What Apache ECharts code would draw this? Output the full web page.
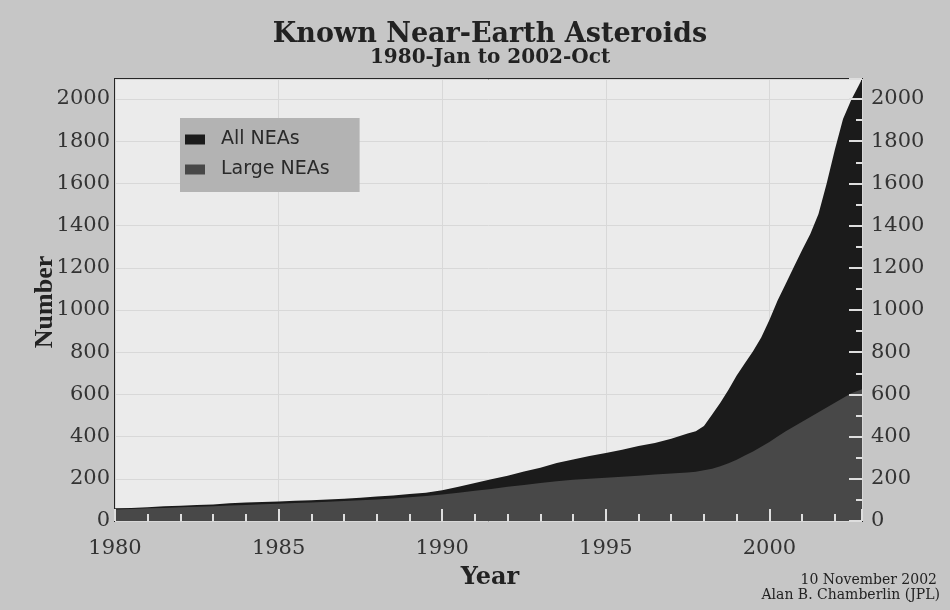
<!DOCTYPE html>
<html>
<head>
<meta charset="utf-8">
<script src="https://cdn.jsdelivr.net/npm/echarts@6/dist/echarts.min.js"></script>
<style>html,body{margin:0;padding:0;background:#c6c6c6;}#c{width:950px;height:610px;}</style>
</head>
<body>
<div id="c"></div>
<script>
const years = [1980.0,1980.5,1981.0,1981.5,1982.0,1982.5,1983.0,1983.5,1984.0,1984.5,1985.0,1985.5,1986.0,1986.5,1987.0,1987.5,1988.0,1988.5,1989.0,1989.5,1990.0,1990.5,1991.0,1991.5,1992.0,1992.5,1993.0,1993.5,1994.0,1994.5,1995.0,1995.5,1996.0,1996.5,1997.0,1997.5,1997.75,1998.0,1998.25,1998.5,1998.75,1999.0,1999.25,1999.5,1999.75,2000.0,2000.25,2000.5,2000.75,2001.0,2001.25,2001.5,2001.75,2002.0,2002.25,2002.5,2002.75,2002.83];
const allNEAs = [60,62,65,70,72,76,78,84,88,90,93,96,98,102,106,110,116,121,128,134,146,162,180,198,215,235,252,275,292,308,322,338,356,370,390,415,425,450,505,560,622,690,748,805,870,953,1045,1125,1205,1285,1360,1455,1600,1760,1905,1995,2070,2095];
const largeNEAs = [55,57,60,62,65,67,70,73,76,79,82,85,88,91,95,98,102,107,112,118,126,134,143,152,162,171,180,188,195,200,205,210,215,220,225,230,233,240,248,260,274,290,310,330,352,375,400,425,448,470,493,515,538,560,583,605,620,625];
const yTicks = [0,200,400,600,800,1000,1200,1400,1600,1800,2000];
const xTicks = [1980,1985,1990,1995,2000];
const seriesNames = ['All NEAs','Large NEAs'];

const chart = echarts.init(document.getElementById('c'));
const serif = '"DejaVu Serif",serif';
const tserif = '"Liberation Serif","Times New Roman",serif';
const sans = '"DejaVu Sans",sans-serif';
const yLabel = v => yTicks.indexOf(Math.round(v)) >= 0 ? String(Math.round(v)) : '';
const xLabel = v => xTicks.indexOf(Math.round(v)) >= 0 ? String(Math.round(v)) : '';
const tickColor = '#dedede';
chart.setOption({
  backgroundColor: '#c6c6c6',
  animation: false,
  grid: {left: 115, right: 88, top: 79, bottom: 89, show: true, backgroundColor: '#ebebeb', borderColor: '#262626', borderWidth: 2},
  legend: {
    orient: 'vertical', left: 180, top: 118,
    backgroundColor: '#b3b3b3', padding: [12, 30, 13, 5], itemGap: 11,
    itemWidth: 20, itemHeight: 10, icon: 'rect',
    textStyle: {fontFamily: sans, fontSize: 19, color: '#2a2a2a', padding: [0, 0, 0, 11]},
    data: seriesNames
  },
  graphic: [
    {type: 'text', x: 490, y: 35, style: {text: 'Known Near-Earth Asteroids', font: 'bold 27px ' + serif, fill: '#222', textAlign: 'center', textVerticalAlign: 'middle'}},
    {type: 'text', x: 490, y: 58, style: {text: '1980-Jan to 2002-Oct', font: 'bold 20px ' + serif, fill: '#222', textAlign: 'center', textVerticalAlign: 'middle'}},
    {type: 'text', x: 45, y: 302, rotation: Math.PI / 2, style: {text: 'Number', font: 'bold 26px ' + tserif, fill: '#222', textAlign: 'center', textVerticalAlign: 'middle'}},
    {type: 'text', x: 490, y: 578, style: {text: 'Year', font: 'bold 24px ' + serif, fill: '#222', textAlign: 'center', textVerticalAlign: 'middle'}},
    {type: 'text', x: 937, y: 580, style: {text: '10 November 2002', font: '14px ' + serif, fill: '#222', textAlign: 'right', textVerticalAlign: 'middle'}},
    {type: 'text', x: 940, y: 595, style: {text: 'Alan B. Chamberlin (JPL)', font: '14px ' + serif, fill: '#222', textAlign: 'right', textVerticalAlign: 'middle'}}
  ],
  xAxis: [
    {
      type: 'value', min: 1980, max: 2002.83, interval: 5, z: 0,
      axisLine: {show: false}, axisTick: {show: false},
      axisLabel: {fontFamily: serif, fontSize: 21, color: '#333', margin: 17, formatter: xLabel},
      splitLine: {show: true, lineStyle: {color: '#d8d8d8', width: 1}}
    },
    {
      type: 'value', min: 1980, max: 2002.83, interval: 5, z: 10, position: 'bottom',
      axisLine: {show: false},
      axisTick: {show: true, inside: true, length: 12, lineStyle: {color: tickColor, width: 2}},
      minorTick: {show: true, splitNumber: 5, length: 7, lineStyle: {color: tickColor, width: 2}},
      axisLabel: {show: false}, splitLine: {show: false}
    }
  ],
  yAxis: [
    {
      type: 'value', min: 0, max: 2095, interval: 200, position: 'left', z: 0,
      axisLine: {show: false}, axisTick: {show: false},
      axisLabel: {fontFamily: serif, fontSize: 21, color: '#333', margin: 5, showMaxLabel: false, formatter: yLabel},
      splitLine: {show: true, lineStyle: {color: '#d8d8d8', width: 1}}
    },
    {
      type: 'value', min: 0, max: 2095, interval: 200, position: 'right', z: 10,
      axisLine: {show: false},
      axisTick: {show: true, inside: true, length: 13, lineStyle: {color: tickColor, width: 2}},
      minorTick: {show: true, splitNumber: 2, length: 6, lineStyle: {color: tickColor, width: 2}},
      axisLabel: {fontFamily: serif, fontSize: 21, color: '#333', margin: 9, showMaxLabel: false, formatter: yLabel},
      splitLine: {show: false}
    }
  ],
  series: [
    {
      name: seriesNames[0], type: 'line', xAxisIndex: 0, yAxisIndex: 0, symbol: 'none', z: 2,
      itemStyle: {color: '#1b1b1b'}, lineStyle: {width: 0},
      areaStyle: {color: '#1b1b1b', opacity: 1},
      data: years.map((y, i) => [y, allNEAs[i]])
    },
    {
      name: seriesNames[1], type: 'line', xAxisIndex: 0, yAxisIndex: 0, symbol: 'none', z: 3,
      itemStyle: {color: '#484848'}, lineStyle: {width: 0},
      areaStyle: {color: '#484848', opacity: 1},
      data: years.map((y, i) => [y, largeNEAs[i]])
    }
  ]
});
</script>
</body>
</html>
